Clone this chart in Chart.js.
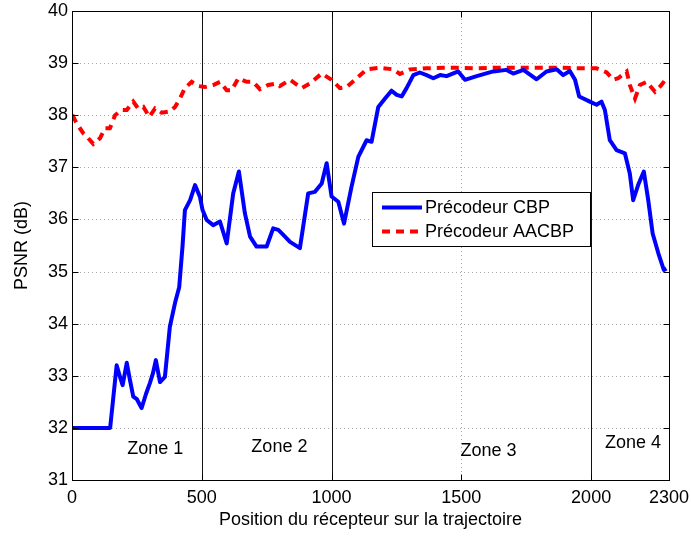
<!DOCTYPE html>
<html>
<head>
<meta charset="utf-8">
<script src="https://cdn.jsdelivr.net/npm/chart.js@4.4.1/dist/chart.umd.min.js"></script>
<style>
  html, body { margin: 0; padding: 0; background: #fff; }
  #wrap { width: 691px; height: 541px; }
</style>
</head>
<body>
<div id="wrap"><canvas id="canvas" width="691" height="541"></canvas></div>
<script>
// Précodeur CBP (bleu)
const cbpX = [0, 147, 172, 185, 195, 211, 222, 236, 250, 268, 285, 300, 312, 323, 339, 358, 377, 397, 413, 426,
  435, 455, 474, 493, 503, 519, 544, 570, 596, 621, 643, 666, 686, 711, 750, 775, 795, 815, 840, 878,
  910, 936, 962, 981, 1000, 1026, 1048, 1077, 1103, 1135, 1154, 1180, 1206, 1231, 1251, 1270, 1289, 1315, 1340, 1366,
  1392, 1418, 1443, 1488, 1514, 1559, 1623, 1674, 1700, 1739, 1790, 1828, 1867, 1892, 1918, 1938, 1954, 1970, 1995, 2021,
  2040, 2053, 2072, 2098, 2130, 2149, 2162, 2181, 2203, 2220, 2237, 2259, 2280, 2290];
const cbpY = [32.0, 32.0, 33.2, 32.98, 32.82, 33.25, 32.95, 32.6, 32.55, 32.38, 32.65, 32.86, 33.05, 33.3, 32.88, 32.98, 33.94, 34.4, 34.7, 35.5,
  36.18, 36.37, 36.66, 36.43, 36.18, 35.99, 35.89, 35.96, 35.54, 36.5, 36.92, 36.12, 35.67, 35.48, 35.48, 35.83, 35.8, 35.7, 35.57, 35.45,
  36.5, 36.53, 36.69, 37.08, 36.44, 36.34, 35.92, 36.63, 37.2, 37.52, 37.49, 38.16, 38.32, 38.47, 38.39, 38.36, 38.52, 38.77, 38.82, 38.77,
  38.71, 38.77, 38.75, 38.84, 38.68, 38.75, 38.84, 38.87, 38.8, 38.87, 38.69, 38.84, 38.88, 38.77, 38.85, 38.68, 38.36, 38.32, 38.26, 38.2,
  38.26, 38.1, 37.52, 37.33, 37.27, 36.88, 36.37, 36.66, 36.92, 36.37, 35.73, 35.35, 35.03, 35.06];

// Précodeur AACBP (rouge)
const aacbpX = [0, 5, 18, 44, 57, 82, 108, 127, 146, 166, 191, 211, 236, 255, 275, 298, 320, 345, 377, 397,
  416, 435, 461, 487, 512, 544, 570, 596, 615, 641, 673, 698, 724, 756, 789, 801, 840, 885, 917, 962,
  1000, 1032, 1058, 1097, 1135, 1186, 1238, 1263, 1302, 1366, 1430, 1495, 1559, 1623, 1751, 1880, 1957, 2021, 2060, 2085,
  2104, 2137, 2149, 2169, 2188, 2214, 2246, 2271, 2290];
const aacbpY = [37.95, 37.97, 37.84, 37.65, 37.59, 37.45, 37.56, 37.75, 37.75, 38.0, 38.1, 38.1, 38.26, 38.13, 38.16, 37.97, 38.13, 38.05, 38.07, 38.16,
  38.32, 38.52, 38.64, 38.56, 38.54, 38.58, 38.64, 38.48, 38.48, 38.71, 38.64, 38.64, 38.5, 38.58, 38.61, 38.56, 38.68, 38.52, 38.61, 38.8,
  38.68, 38.52, 38.54, 38.71, 38.88, 38.91, 38.88, 38.79, 38.88, 38.9, 38.91, 38.91, 38.9, 38.91, 38.91, 38.91, 38.9, 38.9, 38.82, 38.68,
  38.71, 38.84, 38.58, 38.32, 38.58, 38.64, 38.45, 38.58, 38.71];

const xTicks = [0, 500, 1000, 1500, 2000, 2300];
const yTicks = [31, 32, 33, 34, 35, 36, 37, 38, 39, 40];

// zones
const zoneBounds = [500, 1000, 2000];
const zoneLabels = ['Zone 1', 'Zone 2', 'Zone 3', 'Zone 4'];
const zoneX = [321, 799, 1605, 2161];
const zoneY = [31.59, 31.63, 31.56, 31.70];

const FONT = '"Liberation Sans", Arial, Helvetica, sans-serif';

function toPts(xs, ys) {
  return xs.map((v, i) => ({ x: v, y: ys[i] }));
}

const frame = {
  id: 'frame',
  beforeDatasetsDraw(chart) {
    const { ctx, chartArea: a, scales: { x, y } } = chart;
    ctx.save();
    ctx.lineWidth = 1;
    ctx.strokeStyle = '#a8a8a8';
    ctx.setLineDash([1, 3]);
    yTicks.forEach(v => {
      if (v === 31 || v === 40) return;
      const py = Math.round(y.getPixelForValue(v)) + 0.5;
      ctx.beginPath(); ctx.moveTo(a.left, py); ctx.lineTo(a.right, py); ctx.stroke();
    });
    xTicks.forEach(v => {
      if (v === 0 || v === 2300) return;
      const px = Math.round(x.getPixelForValue(v)) + 0.5;
      ctx.beginPath(); ctx.moveTo(px, a.top); ctx.lineTo(px, a.bottom); ctx.stroke();
    });
    ctx.setLineDash([]);
    ctx.strokeStyle = '#111';
    zoneBounds.forEach(v => {
      const px = Math.round(x.getPixelForValue(v)) + 0.5;
      ctx.beginPath(); ctx.moveTo(px, a.top); ctx.lineTo(px, a.bottom); ctx.stroke();
    });
    ctx.restore();
  },
  afterDatasetsDraw(chart) {
    const { ctx, chartArea: a, scales: { x, y } } = chart;
    ctx.save();
    // cadre + graduations vers l'intérieur
    ctx.strokeStyle = '#000';
    ctx.lineWidth = 1;
    const L = Math.round(a.left) + 0.5, R = Math.round(a.right) + 0.5;
    const T = Math.round(a.top) + 0.5, B = Math.round(a.bottom) + 0.5;
    ctx.strokeRect(L, T, R - L, B - T);
    const tk = 6;
    ctx.beginPath();
    yTicks.forEach(v => {
      const py = Math.round(y.getPixelForValue(v)) + 0.5;
      ctx.moveTo(L, py); ctx.lineTo(L + tk, py);
      ctx.moveTo(R, py); ctx.lineTo(R - tk, py);
    });
    xTicks.forEach(v => {
      const px = Math.round(x.getPixelForValue(v)) + 0.5;
      ctx.moveTo(px, B); ctx.lineTo(px, B - tk);
      ctx.moveTo(px, T); ctx.lineTo(px, T + tk);
    });
    ctx.stroke();

    // étiquettes de zones
    ctx.fillStyle = '#000';
    ctx.font = '18px ' + FONT;
    ctx.textAlign = 'center';
    ctx.textBaseline = 'middle';
    zoneLabels.forEach((t, i) => {
      ctx.fillText(t, x.getPixelForValue(zoneX[i]), y.getPixelForValue(zoneY[i]));
    });

    // légende
    const bx = 372.5, by = 192.5, bw = 218, bh = 54;
    ctx.fillStyle = '#fff';
    ctx.fillRect(bx, by, bw, bh);
    ctx.strokeStyle = '#000';
    ctx.lineWidth = 1;
    ctx.strokeRect(bx, by, bw, bh);
    const rows = [207.5, 231.5];
    chart.data.datasets.forEach((ds, i) => {
      ctx.strokeStyle = ds.borderColor;
      ctx.lineWidth = ds.borderWidth;
      ctx.setLineDash(ds.borderDash || []);
      ctx.beginPath();
      ctx.moveTo(382, rows[i]); ctx.lineTo(422, rows[i]);
      ctx.stroke();
      ctx.setLineDash([]);
      ctx.fillStyle = '#000';
      ctx.textAlign = 'left';
      ctx.textBaseline = 'middle';
      ctx.font = '18px ' + FONT;
      ctx.fillText(ds.label, 425, rows[i] + 1);
    });
    ctx.restore();
  }
};

Chart.defaults.color = '#000';
Chart.defaults.font.family = FONT;
Chart.defaults.font.size = 18;

const config = {
  type: 'line',
  data: {
    datasets: [
      {
        label: 'Précodeur CBP',
        data: toPts(cbpX, cbpY),
        borderColor: '#0000ff',
        borderWidth: 4,
        pointRadius: 0,
        tension: 0,
        borderJoinStyle: 'round',
        fill: false
      },
      {
        label: 'Précodeur AACBP',
        data: toPts(aacbpX, aacbpY),
        borderColor: '#ff0000',
        borderWidth: 4,
        borderDash: [8, 6],
        pointRadius: 0,
        tension: 0,
        fill: false
      }
    ]
  },
  options: {
    responsive: false,
    animation: false,
    layout: { padding: { left: 0, right: 22, top: 11, bottom: 0 } },
    plugins: { legend: { display: false }, tooltip: { enabled: false } },
    scales: {
      x: {
        type: 'linear',
        min: 0,
        max: 2300,
        grid: { display: false, drawTicks: false },
        border: { display: false },
        afterBuildTicks: s => { s.ticks = xTicks.map(v => ({ value: v })); },
        afterFit: s => { s.height = 61; s.paddingLeft = 0; s.paddingRight = 0; },
        ticks: {
          padding: 9, maxRotation: 0, autoSkip: false,
          font: { size: 18, lineHeight: 1 },
          callback: v => String(v)
        },
        title: {
          display: true,
          text: 'Position du récepteur sur la trajectoire',
          font: { size: 18 },
          padding: { top: 0, bottom: 10 }
        }
      },
      y: {
        min: 31,
        max: 40,
        grid: { display: false, drawTicks: false },
        border: { display: false },
        afterBuildTicks: s => { s.ticks = yTicks.map(v => ({ value: v })); },
        afterFit: s => { s.width = 72; s.paddingTop = 0; s.paddingBottom = 0; },
        ticks: { padding: 4, font: { size: 18, lineHeight: 0.8 }, callback: v => String(v) },
        title: {
          display: true,
          text: 'PSNR (dB)',
          font: { size: 18 },
          padding: { top: 11, bottom: 0 }
        }
      }
    }
  },
  plugins: [frame]
};

new Chart(document.getElementById('canvas'), config);
</script>
</body>
</html>
